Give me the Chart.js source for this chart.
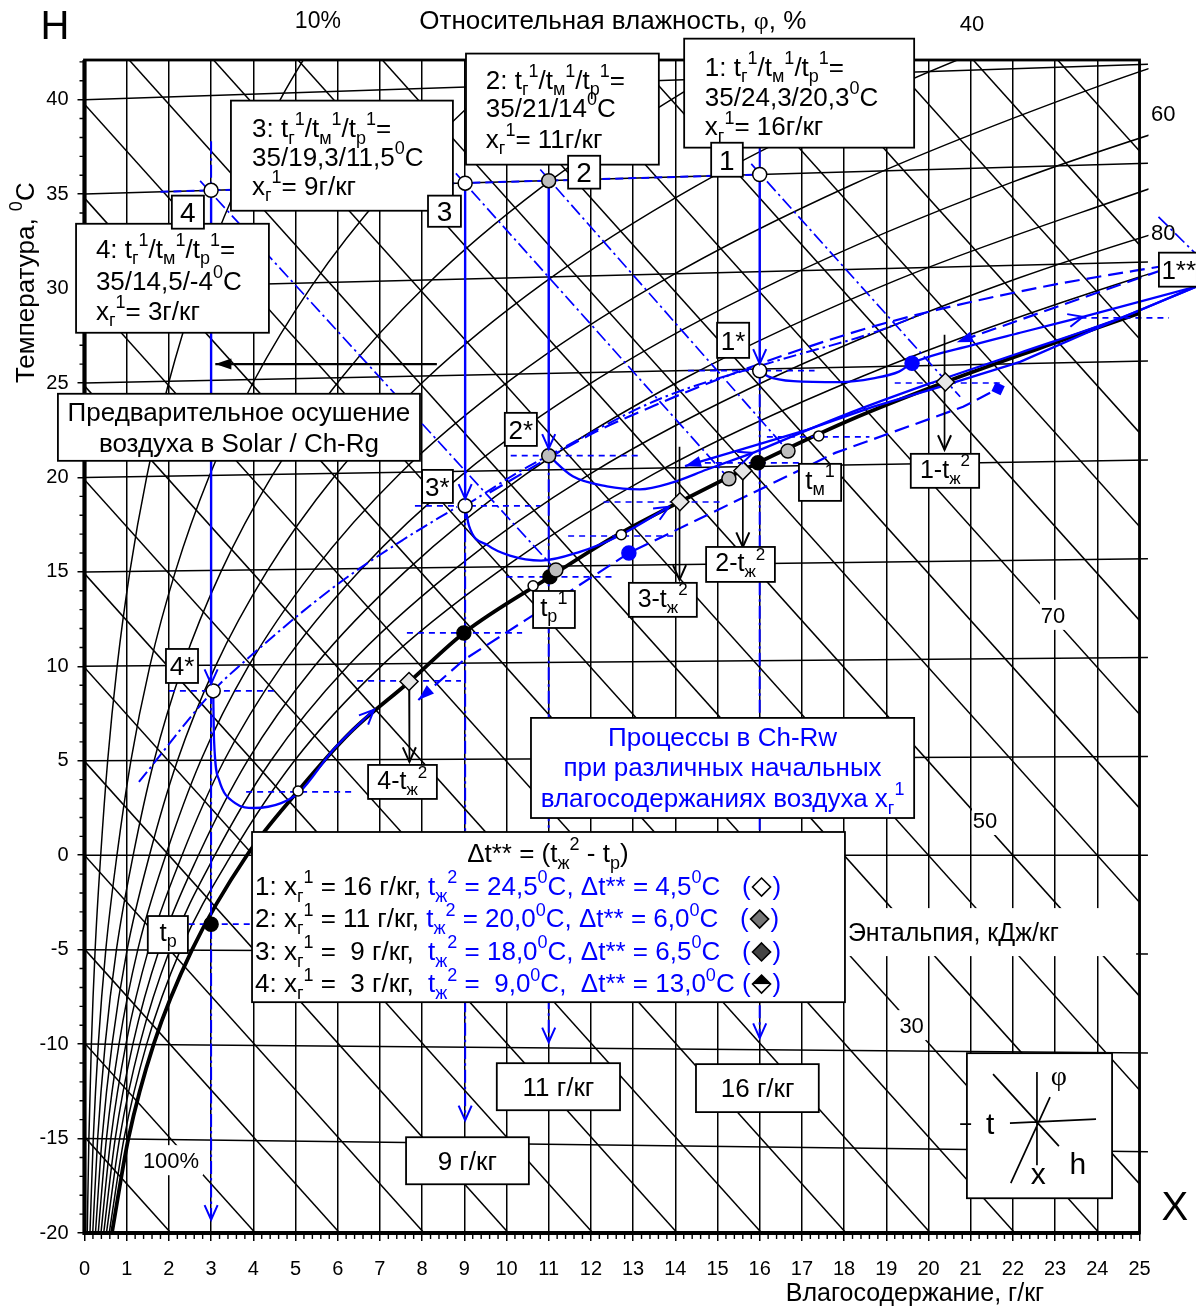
<!DOCTYPE html>
<html><head><meta charset="utf-8">
<script src="https://cdn.jsdelivr.net/npm/chart.js@4.4.1/dist/chart.umd.min.js"></script>
<style>html,body{margin:0;padding:0;background:#fff;}canvas{display:block;}</style>
</head><body>
<canvas id="c" width="1196" height="1308"></canvas>
<script>
// ---------------- DATA ----------------
const xTicks = [0,1,2,3,4,5,6,7,8,9,10,11,12,13,14,15,16,17,18,19,20,21,22,23,24,25];
const yTicks = [-20,-15,-10,-5,0,5,10,15,20,25,30,35,40];

// isotherms: value at x=0 and at x=25.2
const isoT      = [-15,-10,-5,0,5,10,15,20,25,30,35,40];
const isoRightY = [-15.70,-10.47,-5.23,0,5.23,10.47,15.70,20.93,26.17,31.40,36.63,41.87];

// enthalpy lines (kJ/kg): y at x=0 and at x=25
const enthH      = [-15,-10,-5,0,5,10,15,20,25,30,35,40,45,50,55,60,65,70,75,80,85,90,95,100];
const enthLeftY  = [-14.91,-9.94,-4.97,0,4.97,9.94,14.91,19.88,24.85,29.82,34.79,39.76,44.73,49.70,54.67,59.64,64.61,69.58,74.55,79.52,84.49,89.46,94.43,99.40];
const enthRightY = [-77.04,-72.07,-67.10,-62.13,-57.16,-52.19,-47.22,-42.25,-37.28,-32.31,-27.34,-22.37,-17.40,-12.43,-7.46,-2.49,2.49,7.46,12.43,17.40,22.37,27.34,32.31,37.28];

// relative humidity curves [x g/kg, t]
const rh10 = [[0.065,-20],[0.104,-15],[0.163,-10],[0.252,-5],[0.384,0],[0.549,5],[0.773,10],[1.074,15],[1.473,20.02],[1.998,25.04],[2.68,30.06],[3.557,35.1],[4.674,40.15],[5.48,43.19]];
const rh20 = [[0.13,-20],[0.208,-15],[0.327,-10],[0.505,-5],[0.769,0],[1.099,5],[1.547,10],[2.151,15],[2.953,20.05],[4.008,25.08],[5.382,30.13],[7.154,35.2],[9.42,40.3],[11.06,43.38]];
const rh30 = [[0.195,-20],[0.312,-15],[0.49,-10],[0.757,-5],[1.154,0],[1.649,5],[2.324,10],[3.232,15],[4.441,20.07],[6.033,25.12],[8.108,30.19],[10.793,35.3],[14.24,40.46],[16.74,43.58]];
const rh40 = [[0.26,-20],[0.416,-15],[0.654,-10],[1.01,-5],[1.54,0],[2.201,5],[3.102,10],[4.316,15],[5.935,20.09],[8.069,25.16],[10.859,30.26],[14.475,35.41],[19.13,40.61],[22.53,43.78]];
const rh50 = [[0.325,-20],[0.52,-15],[0.818,-10],[1.263,-5],[1.926,0],[2.753,5],[3.882,10],[5.405,15],[7.436,20.12],[10.12,25.2],[13.633,30.33],[18.2,35.51],[24.1,40.77],[28.4,43.98]];
const rh60 = [[0.39,-20],[0.624,-15],[0.982,-10],[1.516,-5],[2.312,0],[3.306,5],[4.665,10],[6.497,15],[8.945,20.14],[12.18,25.24],[16.432,30.39],[21.97,35.62],[29.14,40.93]];
const rh70 = [[0.455,-20],[0.728,-15],[1.146,-10],[1.769,-5],[2.7,0],[3.861,5],[5.449,10],[7.593,15],[10.461,20.17],[14.26,25.29],[19.255,30.46],[25.78,35.72]];
const rh80 = [[0.52,-20],[0.832,-15],[1.31,-10],[2.023,-5],[3.089,0],[4.416,5],[6.235,10],[8.693,15],[11.984,20.19],[16.35,25.33],[22.1,30.53],[29.64,35.83]];
const rh90 = [[0.585,-20],[0.936,-15],[1.474,-10],[2.277,-5],[3.477,0],[4.974,5],[7.024,10],[9.797,15],[13.515,20.22],[18.45,25.37],[24.98,30.6],[33.54,35.94]];
const rh100 = [[0.65,-20],[1.04,-15],[1.64,-10],[2.55,-5],[3.85,0],[5.06,3.4],[6.3,6.5],[7.69,9.17],[8.99,11.77],[11.03,14.74],[12.5,16.8],[14.11,18.71],[15.96,20.78],[18.1,23.0],[20.4,25.05],[22.7,26.9],[25.0,28.7],[25.3,28.92]];

// initial states 1..4 (on 35 C isotherm) and cooled states 1*..4*
const stateX   = [16, 11, 9.02, 3.0];
const stateY   = [36.04, 35.71, 35.58, 35.2];
const starY    = [25.65, 21.15, 18.5, 8.7];
const procBotY = [26.02, 21.52, 18.87, 9.07];
const dropBotY = [-9.68, -9.9, -14.03, -19.3];

const iso35Blue = [[1.8,35.12],[16,36.04]];
const stubX3  = [[3.0,37.8],[3.0,35.6]];
const stubX16 = [[16,37.5],[16,36.4]];

// wet-bulb (enthalpy) dash-dot lines
const wet1 = [[15.8,36.6],[20.75,24.27]];
const wet2 = [[10.8,36.3],[16.67,21.4]];
const wet3 = [[8.8,36.1],[15.27,19.93]];
const wet4 = [[2.74,35.7],[11.17,15.1]];
const wetX = [[25.45,33.8],[26.35,31.8]];

const chain1 = [[1.29,3.88],[3.05,8.7],[3.83,10.34],[5.91,14.2],[7.55,16.7],[8.83,18.44]];
const chain2 = [[9.02,18.5],[10.3,20.3],[11.2,21.4],[13.57,24.1],[16.32,26.12],[18.69,27.66],[19.9,28.7]];

const dash1 = [[7.91,8.22],[8.99,10.34],[10.46,12.46],[12.9,16.0],[16.13,19.5],[17.79,21.3],[20.82,23.74],[21.65,24.7]];
const dash2 = [[26.03,31.37],[23.0,29.0],[20.67,27.16]];
const dash4 = [[9.6,19.2],[12.1,22.4],[13.4,23.7],[14.51,24.75],[17.0,26.8],[19.09,28.24],[22.5,30.0],[26.03,31.37]];

// Ch-Rw processes
const proc1a = [[16,25.65],[16.2,25.35],[16.8,25.1],[17.9,25.05],[18.69,25.25],[19.3,25.6],[19.61,26.05],[21.06,27.02],[22.17,27.66],[23.66,28.5]];
const proc1b = [[23.66,28.5],[26.34,30.1]];
const proc2  = [[11,21.15],[11.57,20.06],[12.38,19.53],[13.16,19.37],[13.94,19.74],[14.75,20.42],[15.84,21.3]];
const proc2b = [[15.84,21.3],[18.0,23.3],[20.0,24.95],[22.17,26.6],[24.5,28.4],[26.34,30.1]];
const proc3  = [[9.02,18.5],[9.11,17.45],[9.56,16.4],[10.08,15.86],[10.82,15.6],[11.72,16.05],[12.72,16.97],[13.85,18.45]];
const proc4  = [[3.05,8.7],[3.07,6.1],[3.19,3.98],[3.57,2.76],[4.02,2.5],[4.66,2.76],[5.1,3.35],[5.9,5.6],[6.86,7.7]];
const returnLine = [[26.34,30.1],[24.2,28.1],[22.17,26.12],[20.27,24.8],[18.68,23.74],[17.12,22.52],[15.53,21.46],[14.23,20.6]];

// short horizontal dashed level lines: [y, x1, x2]
const levelY  = [25.65, 25.0, 28.45, 21.15, 18.5, 8.7, 22.15, 20.77, 18.7, 16.9, 14.74, 11.77, 9.23, 3.35, -3.65];
const levelX1 = [14.3, 19.2, 23.6, 10.1, 7.83, 2.0, 16.17, 14.7, 12.3, 11.46, 10.0, 7.64, 6.46, 3.83, 2.47];
const levelX2 = [17.3, 21.7, 25.7, 13.2, 10.8, 4.5, 18.6, 17.0, 15.1, 14.0, 12.55, 10.37, 8.92, 6.36, 3.97];

// black arrows (t_ж^2 read-off, pre-drying)
const arrowT1 = [[20.38,27.55],[20.38,21.46]];
const arrowT2 = [[15.6,20.35],[15.6,16.32]];
const arrowT3 = [[14.1,21.62],[14.1,14.58]];
const arrowT4 = [[7.69,9.28],[7.7,4.94]];
const arrowPre = [[8.35,26.0],[3.1,26.0]];

// markers
const openPts   = [[16,36.04],[9.02,35.58],[3.0,35.2],[16,25.65],[9.02,18.5],[3.05,8.7]];
const smallOpen = [[5.06,3.4],[17.4,22.2],[12.72,16.97],[10.63,14.26]];
const grayPts   = [[11,35.71],[11,21.15],[16.67,21.4],[15.27,19.93],[11.17,15.1]];
const blackPts  = [[15.96,20.78],[11.03,14.74],[8.99,11.77],[3.0,-3.65]];
const diamondPts= [[20.4,25.05],[15.6,20.35],[14.11,18.71],[7.69,9.2]];
const bluePts   = [[19.61,26.05],[12.9,16.0]];
const blueSquare= [[21.65,24.7]];

// ---------------- STYLE / LAYOUT ----------------
const FONT = "'Liberation Sans', Arial, Helvetica, sans-serif";
const SERIF = "'Liberation Serif', 'Times New Roman', serif";
const BLUE = '#0000ff', BLACK = '#000000';
const GRIDW = 1.5;
const DASHDOT = [13,4,2.5,4], LONGDASH = [15,7], SHORTDASH = [6,5];
const CLIPR = {left:0, top:0, right:9, bottom:0};
const CLIPOUT = {left:0, top:0, right:60, bottom:0};

function mkLine(pts, o) {
  o = o || {};
  return { data: pts.map(p => ({x:p[0], y:p[1]})), showLine:true, pointRadius:0, pointHoverRadius:0,
    borderColor:o.c||BLACK, borderWidth:o.w||GRIDW, borderDash:o.d||[], fill:false,
    order:(o.order!==undefined?o.order:10), tension:0,
    cubicInterpolationMode:o.smooth?'monotone':'default',
    clip:(o.clip!==undefined?o.clip:0), arrowEnd:o.ae||null, arrowStart:o.as||null };
}
function mkPts(pts, o) {
  return { data: pts.map(p => ({x:p[0], y:p[1]})), showLine:false, pointRadius:o.r, pointHoverRadius:o.r,
    pointStyle:o.s||'circle', pointRotation:o.rot||0, pointBackgroundColor:o.bg,
    pointBorderColor:o.bc||BLACK, pointBorderWidth:o.bw||1.5, order:0, clip:false };
}

const datasets = [];
isoT.forEach((t,i) => datasets.push(mkLine([[0,t],[25.2,isoRightY[i]]], {clip:CLIPR})));
enthH.forEach((h,i) => datasets.push(mkLine([[0,enthLeftY[i]],[25,enthRightY[i]]])));
[rh10,rh20,rh30,rh40,rh50,rh60,rh70,rh80,rh90].forEach(c => datasets.push(mkLine(c, {smooth:true, clip:CLIPR})));
datasets.push(mkLine(rh100, {w:3.8, smooth:true, clip:CLIPR, order:9}));

// blue process graphics
stateX.forEach((x,i) => datasets.push(mkLine([[x,stateY[i]],[x,procBotY[i]]], {c:BLUE, w:2.4, order:5, ae:'open'})));
stateX.forEach((x,i) => datasets.push(mkLine([[x,starY[i]],[x,dropBotY[i]]], {c:BLUE, w:2, d:DASHDOT, order:5, ae:'open'})));
datasets.push(mkLine(stubX3, {c:BLUE, w:2, d:DASHDOT, order:5}));
datasets.push(mkLine(stubX16, {c:BLUE, w:2, order:5}));
datasets.push(mkLine(iso35Blue, {c:BLUE, w:2, d:[8,5], order:6}));
[wet1,wet2,wet3,wet4].forEach(w => datasets.push(mkLine(w, {c:BLUE, w:1.7, d:DASHDOT, order:6})));
datasets.push(mkLine(wetX, {c:BLUE, w:1.7, d:DASHDOT, order:6, clip:CLIPOUT}));
datasets.push(mkLine(chain1, {c:BLUE, w:2, d:DASHDOT, order:6, smooth:true}));
datasets.push(mkLine(chain2, {c:BLUE, w:2, d:DASHDOT, order:6, smooth:true}));
datasets.push(mkLine(dash1, {c:BLUE, w:2.2, d:LONGDASH, order:6, as:'filled'}));
datasets.push(mkLine(dash2, {c:BLUE, w:2.2, d:LONGDASH, order:6, ae:'filled', clip:CLIPOUT}));
datasets.push(mkLine(dash4, {c:BLUE, w:2.2, d:LONGDASH, order:6, clip:CLIPOUT, smooth:true}));
levelY.forEach((y,i) => datasets.push(mkLine([[levelX1[i],y],[levelX2[i],y]], {c:BLUE, w:1.7, d:SHORTDASH, order:6, clip:CLIPOUT})));
datasets.push(mkLine(proc1a, {c:BLUE, w:2.3, order:4, smooth:true, ae:'open'}));
datasets.push(mkLine(proc1b, {c:BLUE, w:2.3, order:4, clip:CLIPOUT}));
datasets.push(mkLine(proc2, {c:BLUE, w:2.3, order:4, smooth:true, ae:'open'}));
datasets.push(mkLine(proc2b, {c:BLUE, w:2.3, order:4, clip:CLIPOUT, smooth:true}));
datasets.push(mkLine(proc3, {c:BLUE, w:2.3, order:4, smooth:true, ae:'open'}));
datasets.push(mkLine(proc4, {c:BLUE, w:2.3, order:4, smooth:true, ae:'open'}));
datasets.push(mkLine(returnLine, {c:BLUE, w:2.3, order:4, clip:CLIPOUT, ae:'filled'}));
[arrowT1,arrowT2,arrowT3,arrowT4].forEach(a => datasets.push(mkLine(a, {c:BLACK, w:1.7, order:3, ae:'open'})));
datasets.push(mkLine(arrowPre, {c:BLACK, w:2.3, order:3, ae:'filled'}));

datasets.push(mkPts(openPts, {r:7, bg:'#ffffff'}));
datasets.push(mkPts(smallOpen, {r:5, bg:'#ffffff'}));
datasets.push(mkPts(grayPts, {r:7, bg:'#bdbdbd'}));
datasets.push(mkPts(blackPts, {r:7, bg:'#000000'}));
datasets.push(mkPts(diamondPts, {r:9, bg:'#e6e6e6', s:'rectRot'}));
datasets.push(mkPts(bluePts, {r:7, bg:BLUE, bc:BLUE}));
datasets.push(mkPts(blueSquare, {r:6, bg:BLUE, bc:BLUE, s:'rect', rot:25}));

// annotation layout (data coordinates)
const boxes = [
  [14.21,43.23,19.66,37.46],[9.04,42.44,13.61,36.56],[3.47,39.95,8.73,34.12],[-0.2,33.43,4.37,27.66],
  [-0.63,24.43,7.95,20.88],[10.58,7.27,19.66,1.97],[3.97,1.23,18.02,-7.78],
  [2.07,34.92,2.83,33.17],[8.14,34.92,8.92,33.27],[11.46,37.03,12.22,35.29],[14.85,37.72,15.6,35.92],
  [14.99,28.19,15.75,26.33],[9.96,23.42,10.72,21.67],[8.0,20.4,8.73,18.65],[1.93,10.92,2.69,9.12],
  [25.46,31.9,26.36,30.1],[16.93,20.72,17.93,18.76],[10.63,13.99,11.62,12.03],[1.5,-3.22,2.45,-5.18],
  [19.58,21.25,21.2,19.45],[14.73,16.32,16.36,14.47],[12.9,14.42,14.51,12.62],[6.72,4.78,8.35,2.98],
  [9.77,-11.01,12.69,-13.5],[7.62,-14.93,10.53,-17.42],[14.49,-11.06,17.4,-13.6],[20.91,-10.48,24.35,-18.16]
];
const whiteAreas = [[17.97,-2.8,24.92,-5.34],[22.64,13.52,23.28,11.93],[21.03,2.66,21.69,1.07],[19.28,-8.2,19.96,-9.79],[1.32,-15.35,2.81,-16.94]];
const K = BLACK, B = BLUE;
const labels = [
  {x:14.70,y:41.74,p:[['1: t_{г}^{1}/t_{м}^{1}/t_{р}^{1}=']]},
  {x:14.70,y:40.16,p:[['35/24,3/20,3^{0}C']]},
  {x:14.70,y:38.6,p:[['x_{г}^{1}= 16г/кг']]},
  {x:9.51,y:41.06,p:[['2: t_{г}^{1}/t_{м}^{1}/t_{р}^{1}=']]},
  {x:9.51,y:39.58,p:[['35/21/14^{0}C']]},
  {x:9.51,y:37.93,p:[['x_{г}^{1}= 11г/кг']]},
  {x:3.97,y:38.5,p:[['3: t_{г}^{1}/t_{м}^{1}/t_{р}^{1}=']]},
  {x:3.97,y:36.98,p:[['35/19,3/11,5^{0}C']]},
  {x:3.97,y:35.44,p:[['x_{г}^{1}= 9г/кг']]},
  {x:0.27,y:32.1,p:[['4: t_{г}^{1}/t_{м}^{1}/t_{р}^{1}=']]},
  {x:0.27,y:30.41,p:[['35/14,5/-4^{0}C']]},
  {x:0.27,y:28.82,p:[['x_{г}^{1}= 3г/кг']]},
  {x:3.66,y:23.47,a:'center',p:[['Предварительное осушение']]},
  {x:3.66,y:21.83,a:'center',p:[['воздуха в Solar / Ch-Rg']]},
  {x:15.12,y:6.26,a:'center',p:[['Процессы в Ch-Rw',B]]},
  {x:15.12,y:4.67,a:'center',p:[['при различных начальных',B]]},
  {x:15.12,y:3.03,a:'center',p:[['влагосодержаниях воздуха x_{г}^{1}',B]]},
  {x:10.98,y:0.12,a:'center',p:[['Δt** = (t_{ж}^{2} - t_{р})']]},
  {x:2.45,y:34.05,a:'center',s:28,p:[['4']]},
  {x:8.53,y:34.1,a:'center',s:28,p:[['3']]},
  {x:11.84,y:36.16,a:'center',s:28,p:[['2']]},
  {x:15.22,y:36.82,a:'center',s:28,p:[['1']]},
  {x:15.37,y:27.26,a:'center',p:[['1*']]},
  {x:10.34,y:22.54,a:'center',p:[['2*']]},
  {x:8.36,y:19.52,a:'center',p:[['3*']]},
  {x:2.31,y:10.02,a:'center',p:[['4*']]},
  {x:25.93,y:31.0,a:'center',p:[['1**']]},
  {x:17.43,y:19.9,a:'center',p:[['t_{м}^{1}']]},
  {x:11.12,y:13.17,a:'center',p:[['t_{р}^{1}']]},
  {x:1.98,y:-4.05,a:'center',p:[['t_{р}']]},
  {x:20.39,y:20.45,a:'center',s:25,p:[['1-t_{ж}^{2}']]},
  {x:15.54,y:15.5,a:'center',s:25,p:[['2-t_{ж}^{2}']]},
  {x:13.7,y:13.62,a:'center',s:25,p:[['3-t_{ж}^{2}']]},
  {x:7.53,y:3.98,a:'center',s:25,p:[['4-t_{ж}^{2}']]},
  {x:11.23,y:-12.26,a:'center',p:[['11 г/кг']]},
  {x:9.07,y:-16.18,a:'center',p:[['9 г/кг']]},
  {x:15.95,y:-12.33,a:'center',p:[['16 г/кг']]},
  {x:-0.70,y:43.97,a:'center',s:40,p:[['Н']]},
  {x:25.84,y:-18.53,a:'center',s:40,p:[['X']]},
  {x:5.53,y:44.24,a:'center',s:23,p:[['10%']]},
  {x:12.52,y:44.24,a:'center',s:26,p:[['Относительная влажность, '],['φ',K,SERIF],[', %']]},
  {x:21.03,y:44.03,a:'center',s:22,p:[['40']]},
  {x:25.56,y:39.31,a:'center',s:22,p:[['60']]},
  {x:25.56,y:33.0,a:'center',s:22,p:[['80']]},
  {x:22.95,y:12.72,a:'center',s:22,p:[['70']]},
  {x:21.34,y:1.86,a:'center',s:22,p:[['50']]},
  {x:19.6,y:-8.99,a:'center',s:22,p:[['30']]},
  {x:2.05,y:-16.14,a:'center',s:22,p:[['100%']]},
  {x:18.09,y:-4.07,a:'left',s:25,p:[['Энтальпия, кДж/кг']]},
  {x:-1.41,y:30.31,a:'center',s:26,rot:true,p:[['Температура, ^{0}C']]},
  {x:19.68,y:-23.13,a:'center',s:25,p:[['Влагосодержание, г/кг']]},
  {x:23.09,y:-11.64,a:'center',s:28,p:[['φ',K,SERIF]]},
  {x:21.46,y:-14.18,a:'center',s:30,p:[['t']]},
  {x:22.6,y:-16.83,a:'center',s:30,p:[['x']]},
  {x:23.54,y:-16.3,a:'center',s:30,p:[['h']]}
];
const legendRows = [
  {y:-1.63, fill:'#ffffff', p:[['1: x_{г}^{1} = 16 г/кг, ',K],['t_{ж}^{2} = 24,5^{0}C, Δt** = 4,5^{0}C   (',B]]},
  {y:-3.33, fill:'#777777', p:[['2: x_{г}^{1} = 11 г/кг, ',K],['t_{ж}^{2} = 20,0^{0}C, Δt** = 6,0^{0}C   (',B]]},
  {y:-5.07, fill:'#444444', p:[['3: x_{г}^{1} =  9 г/кг,  ',K],['t_{ж}^{2} = 18,0^{0}C, Δt** = 6,5^{0}C   (',B]]},
  {y:-6.77, fill:'half', p:[['4: x_{г}^{1} =  3 г/кг,  ',K],['t_{ж}^{2} =  9,0^{0}C,  Δt** = 13,0^{0}C (',B]]}
];
const symbolLines = [
  [[21.93,-14.18],[23.97,-13.97]],[[22.57,-11.48],[22.57,-16.41]],
  [[21.53,-11.59],[23.09,-15.4]],[[21.95,-17.36],[22.88,-12.81]],[[20.75,-14.24],[21.01,-14.24]]
];

// ---------------- DRAWING HELPERS ----------------
function runsOf(parts) {
  const out = [];
  for (const pr of parts) {
    const s = pr[0], color = pr[1] || BLACK, fam = pr[2] || FONT;
    const re = /(_\{[^}]*\}|\^\{[^}]*\})/g; let last = 0, m;
    while ((m = re.exec(s))) {
      if (m.index > last) out.push({t:s.slice(last, m.index), k:'n', color, fam});
      out.push({t:m[0].slice(2,-1), k:(m[0][0]==='_'?'sub':'sup'), color, fam});
      last = re.lastIndex;
    }
    if (last < s.length) out.push({t:s.slice(last), k:'n', color, fam});
  }
  return out;
}
function drawRich(ctx, parts, x, y, size, align) {
  const rs = runsOf(parts);
  const fnt = r => (r.k==='n' ? size : Math.round(size*0.68)) + 'px ' + r.fam;
  let w = 0;
  for (const r of rs) { ctx.font = fnt(r); r.w = ctx.measureText(r.t).width; w += r.w; }
  let cx = align==='center' ? x - w/2 : (align==='right' ? x - w : x);
  const base = y + size*0.36;
  ctx.textAlign = 'left'; ctx.textBaseline = 'alphabetic';
  for (const r of rs) {
    ctx.font = fnt(r); ctx.fillStyle = r.color;
    const dy = r.k==='sub' ? size*0.24 : (r.k==='sup' ? -size*0.46 : 0);
    ctx.fillText(r.t, cx, base + dy); cx += r.w;
  }
  return w;
}
function arrowHead(ctx, x1, y1, x2, y2, type, color) {
  const a = Math.atan2(y2-y1, x2-x1), L = type==='open'?16:17, ang = type==='open'?0.42:0.33;
  const p1 = [x2 - L*Math.cos(a-ang), y2 - L*Math.sin(a-ang)];
  const p2 = [x2 - L*Math.cos(a+ang), y2 - L*Math.sin(a+ang)];
  ctx.save(); ctx.setLineDash([]); ctx.strokeStyle = color; ctx.fillStyle = color; ctx.lineWidth = 2;
  ctx.beginPath();
  if (type==='open') { ctx.moveTo(p1[0],p1[1]); ctx.lineTo(x2,y2); ctx.lineTo(p2[0],p2[1]); ctx.stroke(); }
  else { ctx.moveTo(x2,y2); ctx.lineTo(p1[0],p1[1]); ctx.lineTo(p2[0],p2[1]); ctx.closePath(); ctx.fill(); }
  ctx.restore();
}

const overlay = {
  id: 'overlay',
  afterDatasetsDraw(chart) {
    const ctx = chart.ctx, ca = chart.chartArea;
    const X = v => chart.scales.x.getPixelForValue(v), Y = v => chart.scales.y.getPixelForValue(v);
    chart.data.datasets.forEach((ds, i) => {
      if (!ds.arrowEnd && !ds.arrowStart) return;
      const d = chart.getDatasetMeta(i).data; if (d.length < 2) return;
      if (ds.arrowEnd) { const a = d[d.length-2], b = d[d.length-1]; arrowHead(ctx, a.x, a.y, b.x, b.y, ds.arrowEnd, ds.borderColor); }
      if (ds.arrowStart) { const a = d[1], b = d[0]; arrowHead(ctx, a.x, a.y, b.x, b.y, ds.arrowStart, ds.borderColor); }
    });
    ctx.save();
    ctx.setLineDash([]);
    ctx.strokeStyle = BLACK; ctx.lineWidth = 2.8;
    ctx.strokeRect(ca.left, ca.top, ca.right-ca.left, ca.bottom-ca.top);
    ctx.lineWidth = 4.2; ctx.beginPath(); ctx.moveTo(ca.left, ca.top); ctx.lineTo(ca.left, ca.bottom); ctx.lineTo(ca.right, ca.bottom); ctx.stroke();
    ctx.lineWidth = 1.4; ctx.beginPath();
    for (let k = 0; k <= 125; k++) { if (k % 5 === 0) continue; const p = X(k/5); ctx.moveTo(p, ca.bottom); ctx.lineTo(p, ca.bottom+6); }
    for (let v = -20; v <= 42; v++) { if (v % 5 === 0) continue; const p = Y(v); ctx.moveTo(ca.left-5, p); ctx.lineTo(ca.left, p); }
    ctx.stroke();
    ctx.fillStyle = '#ffffff';
    whiteAreas.forEach(r => ctx.fillRect(X(r[0]), Y(r[1]), X(r[2])-X(r[0]), Y(r[3])-Y(r[1])));
    ctx.lineWidth = 1.8;
    boxes.forEach(r => {
      const x = X(r[0]), y = Y(r[1]), w = X(r[2])-x, h = Y(r[3])-y;
      ctx.fillStyle = '#ffffff'; ctx.fillRect(x, y, w, h); ctx.strokeStyle = BLACK; ctx.strokeRect(x, y, w, h);
    });
    labels.forEach(l => {
      const s = l.s || 26;
      if (l.rot) {
        ctx.save(); ctx.translate(X(l.x), Y(l.y)); ctx.rotate(-Math.PI/2);
        drawRich(ctx, l.p, 0, 0, s, 'center'); ctx.restore();
      } else drawRich(ctx, l.p, X(l.x), Y(l.y), s, l.a || 'left');
    });
    legendRows.forEach(r => {
      const x0 = X(4.04), y0 = Y(r.y);
      const w = drawRich(ctx, r.p, x0, y0, 26, 'left');
      const cx = x0 + w + 11, cy = y0 + 1, h = 9;
      ctx.save(); ctx.beginPath(); ctx.moveTo(cx, cy-h); ctx.lineTo(cx+h, cy); ctx.lineTo(cx, cy+h); ctx.lineTo(cx-h, cy); ctx.closePath();
      if (r.fill === 'half') {
        ctx.fillStyle = '#ffffff'; ctx.fill(); ctx.save(); ctx.clip(); ctx.fillStyle = '#000'; ctx.fillRect(cx-h, cy-h, 2*h, h); ctx.restore();
      } else { ctx.fillStyle = r.fill; ctx.fill(); }
      ctx.strokeStyle = BLACK; ctx.lineWidth = 1.6; ctx.stroke(); ctx.restore();
      drawRich(ctx, [[')', BLUE]], cx + 11, y0, 26, 'left');
    });
    ctx.strokeStyle = BLACK; ctx.lineWidth = 1.7; ctx.beginPath();
    symbolLines.forEach(s => { ctx.moveTo(X(s[0][0]), Y(s[0][1])); ctx.lineTo(X(s[1][0]), Y(s[1][1])); });
    ctx.stroke();
    ctx.restore();
  }
};

new Chart(document.getElementById('c'), {
  type: 'scatter',
  data: { datasets },
  options: {
    responsive: false, animation: false, devicePixelRatio: 1,
    layout: { padding: { top: 60, right: 56.5, left: 0, bottom: 0 } },
    plugins: { legend: { display: false }, tooltip: { enabled: false } },
    events: [],
    scales: {
      x: {
        type: 'linear', min: 0, max: 25, position: 'bottom',
        afterFit(s) { s.height = 75; },
        afterBuildTicks(s) { s.ticks = xTicks.map(v => ({value: v})); },
        ticks: { font: { size: 20, family: FONT }, color: BLACK, padding: 16, autoSkip: false, maxRotation: 0 },
        grid: { color: BLACK, lineWidth: GRIDW, tickLength: 8 },
        border: { display: false }
      },
      y: {
        type: 'linear', min: -20, max: 42.1,
        afterFit(s) { s.width = 84.5; },
        afterBuildTicks(s) { s.ticks = yTicks.map(v => ({value: v})); },
        ticks: { font: { size: 20, family: FONT }, color: BLACK, padding: 9, autoSkip: false },
        grid: { drawOnChartArea: false, color: BLACK, lineWidth: GRIDW, tickLength: 7 },
        border: { display: false }
      }
    }
  },
  plugins: [overlay]
});
</script>
</body></html>
